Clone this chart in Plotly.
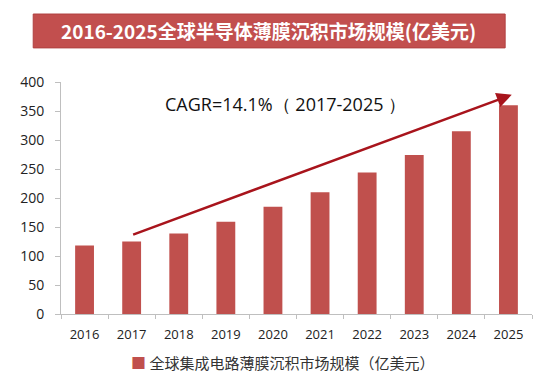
import plotly.graph_objects as go

years = ["2016", "2017", "2018", "2019", "2020", "2021", "2022", "2023", "2024", "2025"]
values = [118, 125, 139, 159, 185, 210, 244, 274, 315, 360]
series_name = "全球集成电路薄膜沉积市场规模（亿美元）"
title_text = "2016-2025全球半导体薄膜沉积市场规模(亿美元)"
cagr_text = "CAGR=14.1%（ 2017-2025 ）"
y_ticks = [0, 50, 100, 150, 200, 250, 300, 350, 400]

bar_color = "#C0504D"

fig = go.Figure()
fig.add_trace(go.Bar(x=years, y=values, name=series_name, marker_color=bar_color,
                     marker_line_width=0, showlegend=False))

# page body has an 8px default margin, so the figure is sized/margined to compensate
fig.update_layout(
    width=546, height=372,
    margin=dict(l=53, r=22, t=74, b=66, autoexpand=False),
    paper_bgcolor="white", plot_bgcolor="white",
    bargap=0.6,
    showlegend=False,
    font=dict(family="Open Sans", color="#333333"),
)
fig.update_xaxes(type="category", showline=True, linecolor="#BFBFBF", linewidth=1,
                 ticks="outside", tickson="boundaries", ticklen=4, tickcolor="#BFBFBF",
                 tickfont=dict(family="Open Sans", size=13, color="#222222"),
                 ticklabelstandoff=8,
                 showgrid=False, range=[-0.5, 9.5])
fig.update_yaxes(range=[0, 400], tickvals=y_ticks, showline=True, linecolor="#BFBFBF",
                 linewidth=1, ticks="outside", ticklen=5, tickcolor="#BFBFBF",
                 tickfont=dict(family="Open Sans", size=14, color="#222222"),
                 ticklabelstandoff=8,
                 showgrid=False, zeroline=False)

# title banner
fig.add_shape(type="rect", xref="paper", yref="paper", x0=-0.059, x1=0.943, y0=1.147, y1=1.293,
              fillcolor="#C24F4E", line=dict(color="#B04040", width=1), layer="above")
fig.add_annotation(xref="paper", yref="paper", x=0.44, y=1.22, text="<b>" + title_text + "</b>",
                   showarrow=False, font=dict(family="Noto Sans CJK SC", size=19, color="white"),
                   xanchor="center", yanchor="middle")

# legend (drawn as text with a coloured square)
fig.add_annotation(xref="paper", yref="paper", x=0.145, y=-0.21, xanchor="left", yanchor="middle",
                   text="<span style='color:%s'>■</span> %s" % (bar_color, series_name),
                   showarrow=False, font=dict(family="Noto Sans CJK SC", size=15, color="#333333"))

# CAGR arrow
fig.add_annotation(x=9.07, y=378, ax=1.0, ay=136, xref="x", yref="y", axref="x", ayref="y",
                   text="", showarrow=True, arrowhead=2, arrowsize=1.2, arrowwidth=2.5,
                   arrowcolor="#A8141C")
fig.add_annotation(x=1.66, y=362, xref="x", yref="y", text=cagr_text, showarrow=False,
                   xanchor="left", yanchor="middle",
                   font=dict(family="Open Sans", size=18, color="#111111"))

fig.write_html("out.html")
